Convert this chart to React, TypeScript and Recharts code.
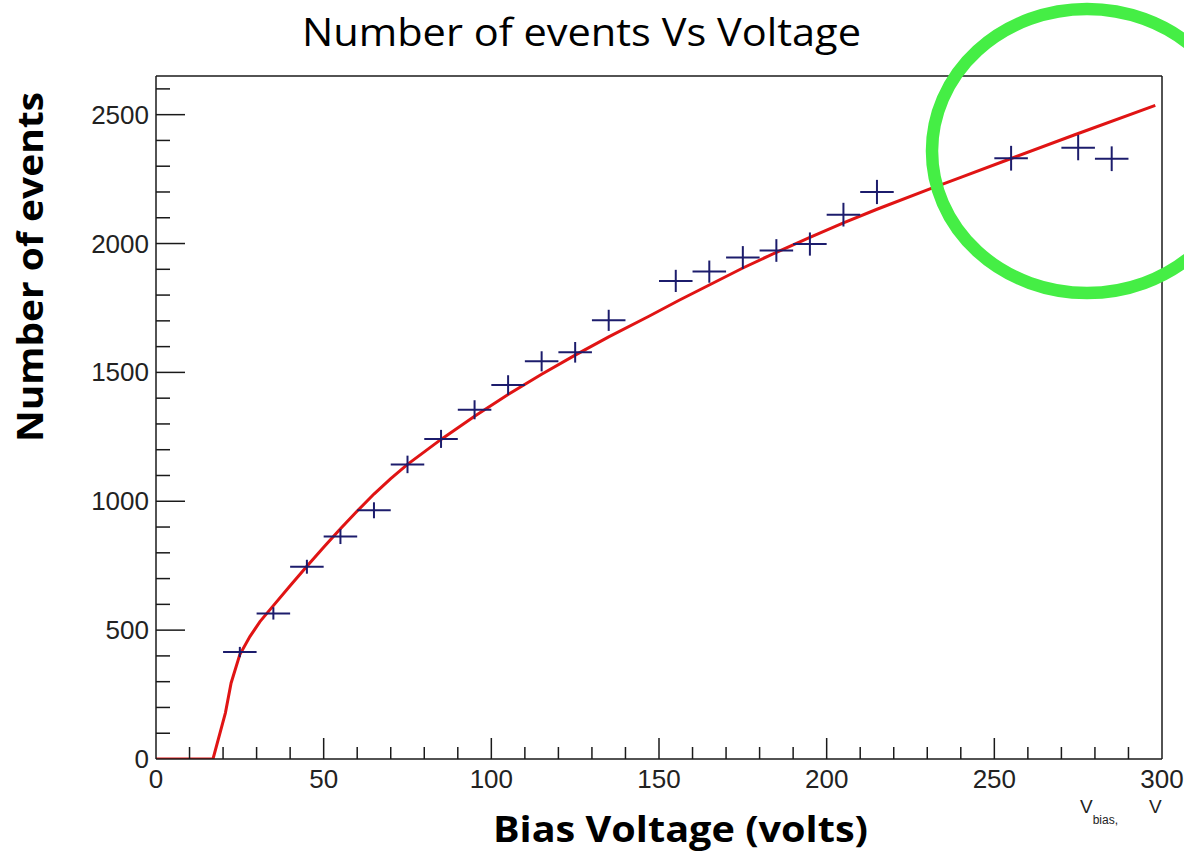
import React from 'react';
import { ComposedChart, XAxis, YAxis, Line, Scatter, ErrorBar, ReferenceLine } from 'recharts';

// Measured points (bias voltage, number of events)
const voltages = [25, 35, 45, 55, 65, 75, 85, 95, 105, 115, 125, 135, 155, 165, 175, 185, 195, 205, 215, 255, 275, 285];
const events = [415, 565, 746, 863, 965, 1143, 1242, 1355, 1451, 1543, 1578, 1702, 1855, 1891, 1946, 1973, 1998, 2112, 2200, 2331, 2372, 2329];
const eventErrors = [20, 24, 27, 29, 31, 34, 35, 37, 38, 39, 40, 41, 43, 43, 44, 44, 45, 46, 47, 48, 49, 48];
const voltageErrors = [5, 5, 5, 5, 5, 5, 5, 5, 5, 5, 5, 5, 5, 5, 5, 5, 5, 5, 5, 5, 5, 5];

// Fit curve
const fitVoltages = [0, 17, 20.7, 22.4, 25, 28, 31, 35, 40, 45, 50, 55, 60, 65, 70, 75, 85, 95, 105, 115, 125, 135, 147, 156, 175, 185, 195, 205, 215, 231, 240, 255, 274, 298];
const fitEvents = [0, 0, 179, 295, 405, 475, 533, 595, 672, 748, 822, 893, 962, 1028, 1088, 1143, 1240, 1330, 1414, 1493, 1567, 1638, 1718, 1780, 1905, 1966, 2024, 2080, 2133, 2213, 2257, 2330, 2422, 2536];

const xMajorTicks = [0, 50, 100, 150, 200, 250, 300];
const xAllTicks = [0, 10, 20, 30, 40, 50, 60, 70, 80, 90, 100, 110, 120, 130, 140, 150, 160, 170, 180, 190, 200, 210, 220, 230, 240, 250, 260, 270, 280, 290, 300];
const yMajorTicks = [0, 500, 1000, 1500, 2000, 2500];
const yAllTicks = [0, 100, 200, 300, 400, 500, 600, 700, 800, 900, 1000, 1100, 1200, 1300, 1400, 1500, 1600, 1700, 1800, 1900, 2000, 2100, 2200, 2300, 2400, 2500, 2600];

const points = voltages.map((v, i) => ({ v, n: events[i], ex: voltageErrors[i], ey: eventErrors[i] }));
const fit = fitVoltages.map((v, i) => ({ v, n: fitEvents[i] }));

const AXIS = '#1a1a1a';
const TICK_FONT = '"Liberation Sans", Arial, sans-serif';
const NAVY = '#1c1c6c';

const YTick = (props: any) => {
  const { x, y, payload } = props;
  const major = yMajorTicks.includes(payload.value);
  return (
    <g>
      {payload.value > 0 && (
        <line x1={x} x2={x + (major ? 29 : 14)} y1={y} y2={y} stroke={AXIS} strokeWidth={1.5} />
      )}
      {major && (
        <text x={x - 7} y={y + 9} textAnchor="end" fontFamily={TICK_FONT} fontSize={26} fill="#222">
          {payload.value}
        </text>
      )}
    </g>
  );
};

const XTick = (props: any) => {
  const { x, y, payload } = props;
  const major = xMajorTicks.includes(payload.value);
  return (
    <g>
      {payload.value > 0 && payload.value < 300 && (
        <line x1={x} x2={x} y1={y} y2={y - (major ? 21 : 12)} stroke={AXIS} strokeWidth={1.5} />
      )}
      {major && (
        <text x={x} y={y + 29} textAnchor="middle" fontFamily={TICK_FONT} fontSize={26} fill="#222">
          {payload.value}
        </text>
      )}
    </g>
  );
};

export default function App() {
  return (
    <div style={{ position: 'absolute', left: 0, top: 0, width: 1184, height: 852, background: '#fff', overflow: 'hidden' }}>
      <ComposedChart width={1184} height={852} margin={{ top: 76, right: 22, bottom: 33, left: 0 }}>
        <XAxis
          type="number"
          dataKey="v"
          domain={[0, 300]}
          ticks={xAllTicks}
          interval={0}
          allowDataOverflow
          height={60}
          tickSize={0}
          tickMargin={0}
          tick={<XTick />}
          axisLine={{ stroke: AXIS, strokeWidth: 1.5 }}
        />
        <YAxis
          type="number"
          domain={[0, 2650]}
          ticks={yAllTicks}
          interval={0}
          allowDataOverflow
          width={156}
          tickSize={0}
          tickMargin={0}
          tick={<YTick />}
          axisLine={{ stroke: AXIS, strokeWidth: 1.5 }}
        />
        <ReferenceLine y={2650} stroke={AXIS} strokeWidth={1.5} />
        <ReferenceLine x={300} stroke={AXIS} strokeWidth={1.5} />
        <Line
          data={fit}
          dataKey="n"
          type="linear"
          stroke="#e01414"
          strokeWidth={3}
          dot={false}
          isAnimationActive={false}
        />
        <Scatter data={points} dataKey="n" shape={() => <g />} isAnimationActive={false}>
          <ErrorBar dataKey="ex" direction="x" width={0} stroke={NAVY} strokeWidth={2} isAnimationActive={false} />
          <ErrorBar dataKey="ey" direction="y" width={0} stroke={NAVY} strokeWidth={2} isAnimationActive={false} />
        </Scatter>
      </ComposedChart>
      <svg width={1184} height={852} style={{ position: 'absolute', left: 0, top: 0, pointerEvents: 'none' }}>
        <text x={581.5} y={46} textAnchor="middle" fontFamily='"Open Sans", sans-serif' fontSize={38} fill="#000" textLength={559} lengthAdjust="spacingAndGlyphs">
          Number of events Vs Voltage
        </text>
        <text transform="translate(43,267) rotate(-90)" textAnchor="middle" fontFamily='"Open Sans", sans-serif' fontWeight="bold" fontSize={35} fill="#000" textLength={350} lengthAdjust="spacingAndGlyphs">
          Number of events
        </text>
        <text x={680.5} y={842} textAnchor="middle" fontFamily='"Open Sans", sans-serif' fontWeight="bold" fontSize={36} fill="#000" textLength={375} lengthAdjust="spacingAndGlyphs">
          Bias Voltage (volts)
        </text>
        <text x={1080} y={813} fontFamily={TICK_FONT} fontSize={19} fill="#222">
          V
          <tspan fontSize={12} dy={11}>bias,</tspan>
          <tspan x={1149} dy={-11}>V</tspan>
        </text>
        <ellipse cx={1087} cy={151} rx={155} ry={142} fill="none" stroke="#45ee45" strokeWidth={12.5} />
      </svg>
    </div>
  );
}
